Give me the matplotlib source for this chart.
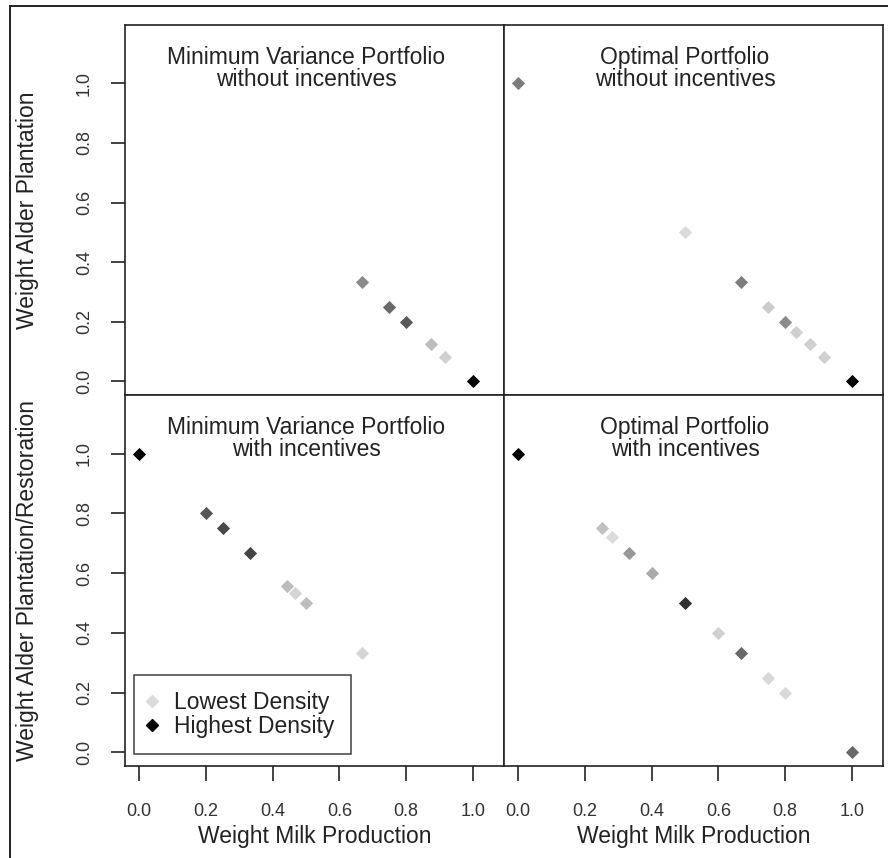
import matplotlib
matplotlib.use('Agg')
import matplotlib.pyplot as plt
from matplotlib.lines import Line2D

plt.rcParams['font.family'] = ['Liberation Sans', 'DejaVu Sans']

# portfolio weights (milk production, alder) and density level per solution
mvp_wo_x = [0.667, 0.75, 0.8, 0.875, 0.917, 1.0]
mvp_wo_y = [0.333, 0.25, 0.2, 0.125, 0.083, 0.0]
mvp_wo_d = [0.37, 0.52, 0.59, 0.14, 0.05, 1.0]

opt_wo_x = [0.0, 0.5, 0.667, 0.75, 0.8, 0.833, 0.875, 0.917, 1.0]
opt_wo_y = [1.0, 0.5, 0.333, 0.25, 0.2, 0.167, 0.125, 0.083, 0.0]
opt_wo_d = [0.44, 0.0, 0.43, 0.07, 0.37, 0.05, 0.05, 0.05, 1.0]

mvp_w_x = [0.0, 0.2, 0.25, 0.333, 0.444, 0.467, 0.5, 0.667]
mvp_w_y = [1.0, 0.8, 0.75, 0.667, 0.556, 0.533, 0.5, 0.333]
mvp_w_d = [1.0, 0.61, 0.67, 0.69, 0.14, 0.03, 0.14, 0.03]

opt_w_x = [0.0, 0.25, 0.28, 0.333, 0.4, 0.5, 0.6, 0.667, 0.75, 0.8, 1.0]
opt_w_y = [1.0, 0.75, 0.72, 0.667, 0.6, 0.5, 0.4, 0.333, 0.25, 0.2, 0.0]
opt_w_d = [1.0, 0.12, 0.0, 0.31, 0.22, 0.78, 0.05, 0.52, 0.015, 0.015, 0.52]

titles = ['Minimum Variance Portfolio\nwithout incentives',
          'Optimal Portfolio\nwithout incentives',
          'Minimum Variance Portfolio\nwith incentives',
          'Optimal Portfolio\nwith incentives']
ticks = [0.0, 0.2, 0.4, 0.6, 0.8, 1.0]
tick_labels = ['0.0', '0.2', '0.4', '0.6', '0.8', '1.0']
xlab = 'Weight Milk Production'
ylabs = ['Weight Alder Plantation', 'Weight Alder Plantation/Restoration']
legend_labels = ['Lowest Density', 'Highest Density']
legend_d = [0.0, 1.0]

panels = [(mvp_wo_x, mvp_wo_y, mvp_wo_d), (opt_wo_x, opt_wo_y, opt_wo_d),
          (mvp_w_x, mvp_w_y, mvp_w_d), (opt_w_x, opt_w_y, opt_w_d)]


def shade(d):
    g = 0.86 * (1 - d)
    return (g, g, g)


W, H = 888, 858
fig = plt.figure(figsize=(W / 100, H / 100), dpi=100)

# panel boxes in pixels: left, top, right, bottom
cols = [(125, 504), (504, 883)]
rows = [(25, 395), (395, 766)]
txt = '#222222'

axes = []
for i in range(4):
    r, c = divmod(i, 2)
    x0, x1 = cols[c]
    y0, y1 = rows[r]
    ax = fig.add_axes([x0 / W, 1 - y1 / H, (x1 - x0) / W, (y1 - y0) / H])
    xs, ys, ds = panels[i]
    for x, y, d in zip(xs, ys, ds):
        ax.plot(x, y, 'D', ms=6.2, color=shade(d), mec=shade(d), mew=0.6)
    ax.set_xlim(-0.042, 1.093)
    ax.set_ylim(-0.046, 1.196)
    ax.text(0.5, 1.05, titles[i], ha='center', va='center', fontsize=16.5,
            color=txt, linespacing=0.98)
    for s in ax.spines.values():
        s.set_linewidth(1.2)
        s.set_color('#222222')
    ax.tick_params(direction='out', length=10, width=1.2, color='#222222',
                   labelsize=13, labelcolor='#333333')
    if c == 0:
        ax.set_yticks(ticks)
        ax.set_yticklabels(tick_labels, rotation=90, va='center')
        ax.tick_params(axis='y', pad=13)
    else:
        ax.set_yticks([])
    if r == 1:
        ax.set_xticks(ticks)
        ax.set_xticklabels(tick_labels)
        ax.tick_params(axis='x', pad=16, length=11)
        ax.set_xlabel(xlab, fontsize=16.5, color=txt)
        ax.xaxis.set_label_coords(0.5, -0.191)
        ax.xaxis.label.set_va('center')
    else:
        ax.set_xticks([])
    axes.append(ax)

for r in range(2):
    y0, y1 = rows[r]
    fig.text(28 / W, 1 - (y0 + y1) / 2 / H, ylabs[r], rotation=90,
             ha='center', va='center', fontsize=16.5, color=txt)

handles = [Line2D([], [], marker='D', ls='', ms=6.2, color=shade(d))
           for d in legend_d]
leg = axes[2].legend(handles, legend_labels, loc='lower left',
                     bbox_to_anchor=(0.0237, 0.032), borderaxespad=0,
                     fontsize=16.5, frameon=True, fancybox=False,
                     handlelength=0.2, handletextpad=0.85, borderpad=0.7,
                     labelspacing=0.05, labelcolor=txt)
leg.get_frame().set_edgecolor('#222222')
leg.get_frame().set_linewidth(1.2)

# outer frame lines along the left and top
fig.add_artist(Line2D([10 / W, 10 / W], [0, 1 - 6 / H], color='#222222', lw=1.4))
fig.add_artist(Line2D([10 / W, 1], [1 - 6 / H, 1 - 6 / H], color='#222222', lw=1.4))

fig.savefig('out.png', dpi=100)
